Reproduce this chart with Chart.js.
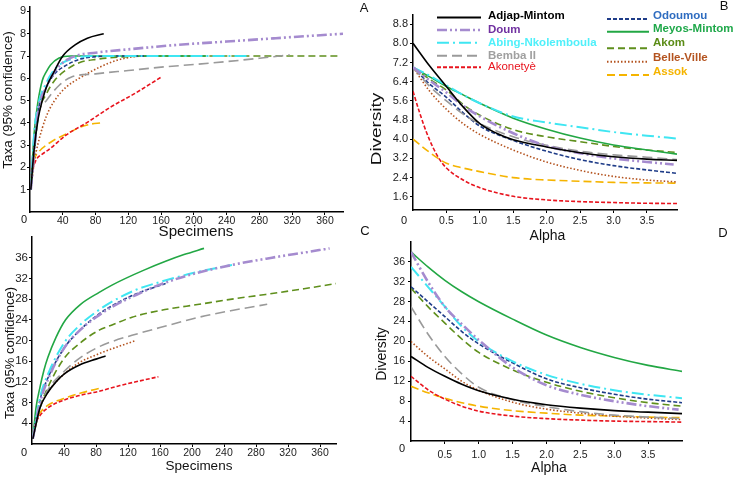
<!DOCTYPE html>
<html>
<head>
<meta charset="utf-8">
<script src="https://cdn.jsdelivr.net/npm/chart.js@4.4.1/dist/chart.umd.min.js"></script>
<style>
  body { margin: 0; background: #fff; width: 733px; height: 478px; position: relative; overflow: hidden; }
  canvas { position: absolute; }
</style>
</head>
<body>
<canvas id="chartA" width="355" height="240" style="left:0;top:0;width:355px;height:240px"></canvas>
<canvas id="chartB" width="378" height="245" style="left:355px;top:0;width:378px;height:245px"></canvas>
<canvas id="chartC" width="355" height="246" style="left:0;top:232px;width:355px;height:246px"></canvas>
<canvas id="chartD" width="378" height="246" style="left:355px;top:232px;width:378px;height:246px"></canvas>
<script>
const sites = ["Adjap-Mintom", "Doum", "Abing-Nkolemboula", "Bemba II", "Akonetyè",
  "Odoumou", "Meyos-Mintom", "Akom", "Belle-Ville", "Assok"];

// A: rarefaction, [specimens, taxa]
const rareA_adjap = [[1,1],[5,2.8],[10,4.2],[15,5.0],[20,5.6],[28,6.2],[40,7.0],[55,7.5],[70,7.8],[90,8.0]];
const rareA_doum = [[1,1],[10,4.5],[20,5.6],[30,6.3],[40,6.7],[55,7.0],[80,7.15],[120,7.3],[180,7.5],[240,7.65],[300,7.8],[340,7.9],[382,8.0]];
const rareA_abing = [[1,1],[5,3.5],[10,4.8],[20,5.8],[30,6.4],[40,6.7],[60,6.95],[80,7.0],[268,7.0]];
const rareA_bemba = [[1,1],[10,4.3],[20,5.0],[36,5.7],[50,6.05],[80,6.2],[120,6.35],[160,6.5],[200,6.62],[240,6.75],[280,6.9],[317,7.05]];
const rareA_akonetye = [[1,1.1],[3,1.8],[7,2.3],[15,2.6],[23,2.8],[44,3.45],[69,4.0],[98,4.7],[127,5.3],[160,6.05]];
const rareA_odoumou = [[1,1],[10,4.5],[20,5.6],[30,6.2],[45,6.6],[60,6.85],[80,6.97],[100,7.0],[142,7.0]];
const rareA_meyos = [[1,1],[5,3.5],[10,5.0],[15,5.9],[20,6.3],[25,6.6],[35,6.9],[50,7.0],[215,7.0]];
const rareA_akom = [[1,1],[10,4.3],[20,5.3],[30,5.9],[45,6.4],[60,6.7],[80,6.85],[120,6.97],[160,7.0],[376,7.0]];
const rareA_belle = [[1,1],[5,2.2],[10,3.1],[20,4.3],[30,5.0],[44,5.6],[60,6.0],[85,6.5],[105,6.8],[130,7.0]];
const rareA_assok = [[1,1.2],[3,2.0],[11,2.7],[20,3.0],[28,3.2],[44,3.5],[61,3.8],[75,3.95],[86,4.0]];

// B: diversity profile, [alpha, diversity]
const profB_adjap = [[0,8.0],[0.25,7.05],[0.5,6.2],[0.75,5.35],[1.0,4.65],[1.25,4.25],[1.5,3.98],[2.0,3.68],[2.5,3.44],[3.0,3.27],[3.5,3.17],[3.95,3.12]];
const profB_doum = [[0,7.0],[0.25,6.45],[0.5,5.95],[0.75,5.4],[1.0,4.95],[1.5,4.25],[2.0,3.72],[2.5,3.42],[3.0,3.2],[3.5,3.05],[3.9,2.95]];
const profB_abing = [[0,7.0],[0.25,6.65],[0.5,6.25],[0.75,5.85],[1.0,5.5],[1.5,4.95],[2.0,4.7],[2.5,4.5],[3.0,4.3],[3.5,4.15],[3.95,4.03]];
const profB_bemba = [[0,7.0],[0.25,6.2],[0.5,5.6],[0.75,5.05],[1.0,4.65],[1.5,4.1],[2.0,3.75],[2.5,3.5],[3.0,3.35],[3.5,3.25],[3.95,3.15]];
const profB_akonetye = [[0,6.0],[0.1,5.1],[0.2,4.3],[0.3,3.65],[0.4,3.15],[0.5,2.8],[0.75,2.3],[1.0,1.98],[1.5,1.62],[2.0,1.47],[2.5,1.4],[3.0,1.36],[3.5,1.33],[3.95,1.32]];
const profB_odoumou = [[0,7.0],[0.25,6.3],[0.5,5.75],[0.75,5.1],[1.0,4.55],[1.5,3.95],[2.0,3.5],[2.5,3.15],[3.0,2.9],[3.5,2.72],[3.95,2.58]];
const profB_meyos = [[0,7.0],[0.25,6.6],[0.5,6.2],[0.75,5.85],[1.0,5.5],[1.5,4.88],[2.0,4.42],[2.5,4.05],[3.0,3.76],[3.5,3.55],[3.95,3.38]];
const profB_akom = [[0,7.0],[0.25,6.5],[0.5,6.05],[0.75,5.45],[1.0,5.0],[1.5,4.4],[2.0,4.1],[2.5,3.9],[3.0,3.7],[3.5,3.55],[3.95,3.45]];
const profB_belle = [[0,7.0],[0.25,6.0],[0.5,5.25],[0.75,4.65],[1.0,4.2],[1.5,3.55],[2.0,3.05],[2.5,2.7],[3.0,2.45],[3.5,2.3],[3.95,2.22]];
const profB_assok = [[0,4.0],[0.25,3.45],[0.5,3.0],[0.75,2.8],[1.0,2.65],[1.5,2.4],[2.0,2.3],[2.5,2.25],[3.0,2.2],[3.5,2.18],[3.95,2.17]];

// C: rarefaction, [specimens, taxa]
const rareC_adjap = [[1,1],[10,7],[20,10],[30,12],[40,13.5],[60,15.3],[80,16.4],[92,17]];
const rareC_doum = [[1,1],[10,8],[20,12.5],[40,18.5],[60,22],[80,24.5],[100,26.5],[130,28.8],[160,30.8],[200,32.8],[250,34.6],[300,36],[340,37],[372,37.8]];
const rareC_abing = [[1,1],[10,9],[20,13.5],[40,19.5],[60,23],[80,25.5],[100,27.5],[130,29.8],[160,31.3],[200,33],[250,34.6]];
const rareC_bemba = [[1,1],[10,7],[20,10.5],[40,14],[57,16.3],[80,18.5],[100,19.8],[125,21],[160,22.5],[209,24.5],[250,25.8],[294,27]];
const rareC_akonetye = [[1,1],[5,4],[10,5.5],[20,7],[40,8.5],[60,9.4],[84,10.2],[110,11.3],[135,12.2],[158,13]];
const rareC_odoumou = [[1,1],[10,8.5],[20,12.8],[40,18.5],[60,22],[80,24.7],[100,26.7],[130,29],[167,31]];
const rareC_meyos = [[1,1],[5,7],[10,11],[15,14.3],[20,16.8],[30,20.6],[42,24.0],[60,26.9],[84,29.3],[100,30.7],[117,32.0],[140,33.6],[167,35.3],[190,36.6],[215,37.8]];
const rareC_akom = [[1,1],[10,7],[20,11],[40,16.5],[60,19.5],[84,22],[100,23],[125,24.5],[160,25.8],[209,27],[250,28],[292,28.9],[340,30],[380,31]];
const rareC_belle = [[1,1],[10,7],[20,10],[40,13.5],[60,15.8],[80,17.2],[100,18.4],[130,20]];
const rareC_assok = [[1,1],[5,4.5],[10,6],[20,7.5],[40,8.8],[60,9.8],[88,10.9]];

// D: diversity profile, [alpha, diversity]
const profD_adjap = [[0,17],[0.25,14.8],[0.5,13],[0.75,11.4],[1.0,10.1],[1.5,8.4],[2.0,7.3],[2.5,6.6],[3.0,6.1],[3.5,5.8],[4.0,5.5]];
const profD_doum = [[0,38],[0.25,32],[0.5,27],[0.75,23.5],[1.0,20.3],[1.5,14.8],[2.0,11.2],[2.5,9.3],[3.0,8],[3.5,7],[3.95,6.3]];
const profD_abing = [[0,35],[0.25,31],[0.5,27],[0.75,23],[1.0,20],[1.5,16],[2.0,13.3],[2.5,11.5],[3.0,10.2],[3.5,9.3],[4.0,8.6]];
const profD_bemba = [[0,27],[0.25,21.5],[0.5,17],[0.75,13.5],[1.0,10.8],[1.5,8.3],[2.0,6.9],[2.5,5.9],[3.0,5.2],[3.5,4.8],[4.0,4.5]];
const profD_akonetye = [[0,13],[0.25,10.3],[0.5,8.4],[0.75,7],[1.0,6],[1.5,5],[2.0,4.5],[2.5,4.2],[3.0,4],[3.5,3.9],[4.0,3.8]];
const profD_odoumou = [[0,31],[0.25,28],[0.5,25],[0.75,22],[1.0,19.5],[1.5,15.7],[2.0,12.5],[2.5,10.7],[3.0,9.4],[3.5,8.4],[4.0,7.7]];
const profD_meyos = [[0,38],[0.25,35],[0.5,32.3],[0.75,30],[1.0,28],[1.5,24.5],[2.0,21.3],[2.5,18.8],[3.0,16.8],[3.5,15.2],[4.0,14]];
const profD_akom = [[0,30.7],[0.25,27],[0.5,23.7],[0.75,20.5],[1.0,17.8],[1.5,14.3],[2.0,11.8],[2.5,10],[3.0,8.7],[3.5,7.7],[4.0,7]];
const profD_belle = [[0,20],[0.25,17],[0.5,14.5],[0.75,12],[1.0,10.2],[1.5,7.8],[2.0,6.4],[2.5,5.6],[3.0,5.0],[3.5,4.6],[4.0,4.3]];
const profD_assok = [[0,11],[0.25,9.7],[0.5,8.6],[0.75,7.7],[1.0,7],[1.5,6.1],[2.0,5.6],[2.5,5.2],[3.0,5.0],[3.5,4.8],[4.0,4.7]];

// tick labels
const specimenTicks = [40, 80, 120, 160, 200, 240, 280, 320, 360];
const alphaTicks = [0.5, 1.0, 1.5, 2.0, 2.5, 3.0, 3.5];
const taxaTicksA = [1, 2, 3, 4, 5, 6, 7, 8, 9];
const diversityTicksB = [1.6, 2.4, 3.2, 4.0, 4.8, 5.6, 6.4, 7.2, 8.0, 8.8];
const countTicks = [4, 8, 12, 16, 20, 24, 28, 32, 36];

// line styles, in sites order
const lineColors = ["#000000", "#a58bcf", "#3fe6f2", "#9a9a9a", "#e8141e", "#1f3c88", "#22a744", "#5f8f1c", "#b4531f", "#f5b400"];
const labelColors = ["#000000", "#7030a0", "#4ff0fa", "#a0a0a0", "#e8141e", "#2e6cc0", "#1fa84a", "#5b8c16", "#b4531f", "#f5b400"];
const lineDashes = [[], [10, 3, 2, 3, 2, 3], [12, 4, 2, 4], [10, 5], [4, 2], [4, 2], [], [7, 4], [1.5, 2], [8, 4]];
const lineWidths = [1.6, 2.6, 2, 1.6, 1.6, 1.6, 1.6, 1.6, 1.6, 1.6];

const FONT = '"Liberation Sans", Arial, sans-serif';
Chart.defaults.font.family = FONT;

function textLayer(items) {
  return {
    id: "textLayer",
    afterDraw(chart) {
      const c = chart.ctx;
      items.forEach((t) => {
        c.save();
        c.font = t.font;
        c.fillStyle = t.color || "#111";
        c.textAlign = "center";
        c.textBaseline = "middle";
        c.translate(t.x, t.y);
        if (t.rotate) c.rotate(t.rotate);
        if (t.stretch) c.scale(t.stretch, 1);
        c.fillText(t.text, 0, 0);
        c.restore();
      });
    },
  };
}

// legend drawn on panel B
const legendLayer = {
  id: "legendLayer",
  afterDraw(chart) {
    const c = chart.ctx;
    const cols = [
      { x0: 82, x1: 126, tx: 133, ty: [16, 30, 42.7, 55.7, 67.3], ly: [17.5, 30, 42.7, 55.7, 67.3] },
      { x0: 252, x1: 294, tx: 298, ty: [16, 29, 43.3, 58.3, 71.7], ly: [19, 31.7, 48.3, 61.7, 75] },
    ];
    chart.data.datasets.forEach((ds, i) => {
      const col = cols[i < 5 ? 0 : 1];
      const row = i % 5;
      c.save();
      c.strokeStyle = ds.borderColor;
      c.lineWidth = i === 1 ? 2.6 : 2;
      c.setLineDash(ds.borderDash);
      c.beginPath();
      c.moveTo(col.x0, col.ly[row]);
      c.lineTo(col.x1, col.ly[row]);
      c.stroke();
      c.setLineDash([]);
      c.font = (i === 4 ? "" : "bold ") + "11.5px " + FONT;
      c.fillStyle = labelColors[i];
      c.textAlign = "left";
      c.textBaseline = "middle";
      c.fillText(ds.label, col.tx, col.ty[row]);
      c.restore();
    });
  },
};

function axis(min, max, ticks, horizontal, fixed, fmt, fontSize, pad) {
  return {
    type: "linear",
    min: min,
    max: max,
    afterBuildTicks: (s) => { s.ticks = ticks.map((v) => ({ value: v })); },
    afterFit: (s) => {
      if (horizontal) s.height = fixed; else s.width = fixed;
      s.paddingLeft = 0; s.paddingRight = 0; s.paddingTop = 0; s.paddingBottom = 0;
    },
    grid: { display: true, drawOnChartArea: false, drawTicks: true, tickLength: 3, color: "#000", lineWidth: 1 },
    border: { display: true, color: "#000", width: 1.5 },
    ticks: {
      autoSkip: false,
      maxRotation: 0,
      padding: pad,
      color: "#222",
      font: { size: fontSize },
      callback: fmt,
    },
    title: { display: false },
  };
}

function makePanel(id, curves, o) {
  const ctx = document.getElementById(id).getContext("2d");
  return new Chart(ctx, {
    type: "line",
    data: {
      datasets: curves.map((pts, i) => ({
        label: sites[i],
        data: pts.map(([x, y]) => ({ x, y })),
        borderColor: lineColors[i],
        borderDash: lineDashes[i],
        borderWidth: lineWidths[i],
        pointRadius: 0,
        fill: false,
        cubicInterpolationMode: "monotone",
      })),
    },
    options: {
      responsive: false,
      animation: false,
      events: [],
      layout: { padding: o.padding },
      plugins: { legend: { display: false }, tooltip: { enabled: false } },
      scales: { x: o.x, y: o.y },
    },
    plugins: o.plugins,
  });
}

const plain = (v) => String(v);
const oneDec = (v) => v.toFixed(1);
const tick = (size) => size + "px " + FONT;

makePanel("chartA",
  [rareA_adjap, rareA_doum, rareA_abing, rareA_bemba, rareA_akonetye, rareA_odoumou, rareA_meyos, rareA_akom, rareA_belle, rareA_assok],
  {
    padding: { left: 0, top: 7, right: 12, bottom: 0 },
    x: axis(0, 382, specimenTicks, true, 28, plain, 10.5, 0),
    y: axis(0, 9.2, taxaTicksA, false, 30, plain, 11, 1),
    plugins: [textLayer([
      { text: "0", x: 24, y: 220, font: tick(11) },
      { text: "Specimens", x: 196, y: 232, font: tick(14), stretch: 1.08 },
      { text: "Taxa (95% confidence)", x: 8.5, y: 100, rotate: -Math.PI / 2, font: tick(13.5) },
    ])],
  });

makePanel("chartB",
  [profB_adjap, profB_doum, profB_abing, profB_bemba, profB_akonetye, profB_odoumou, profB_meyos, profB_akom, profB_belle, profB_assok],
  {
    padding: { left: 0, top: 15, right: 56, bottom: 0 },
    x: axis(0, 3.95, alphaTicks, true, 35, oneDec, 10.5, 2),
    y: axis(1.05, 9.18, diversityTicksB, false, 58, oneDec, 11, 2),
    plugins: [legendLayer, textLayer([
      { text: "0", x: 49, y: 221, font: tick(11) },
      { text: "Alpha", x: 192.5, y: 236, font: tick(14) },
      { text: "Diversity", x: 22, y: 129, rotate: -Math.PI / 2, font: tick(14), stretch: 1.35 },
      { text: "A", x: 9, y: 8, font: tick(13) },
      { text: "B", x: 369, y: 6, font: tick(13) },
      { text: "C", x: 10, y: 231, font: tick(13) },
      { text: "D", x: 368, y: 233, font: tick(13) },
    ])],
  });

makePanel("chartC",
  [rareC_adjap, rareC_doum, rareC_abing, rareC_bemba, rareC_akonetye, rareC_odoumou, rareC_meyos, rareC_akom, rareC_belle, rareC_assok],
  {
    padding: { left: 0, top: 5, right: 19, bottom: 0 },
    x: axis(0, 380, specimenTicks, true, 34, plain, 10.5, 0),
    y: axis(0, 40, countTicks, false, 32, plain, 11.5, 1),
    plugins: [textLayer([
      { text: "0", x: 24, y: 221, font: tick(11) },
      { text: "Specimens", x: 199, y: 234, font: tick(13.5) },
      { text: "Taxa (95% confidence)", x: 10, y: 121, rotate: -Math.PI / 2, font: tick(13) },
    ])],
  });

makePanel("chartD",
  [profD_adjap, profD_doum, profD_abing, profD_bemba, profD_akonetye, profD_odoumou, profD_meyos, profD_akom, profD_belle, profD_assok],
  {
    padding: { left: 0, top: 10, right: 51, bottom: 0 },
    x: axis(0, 4.0, alphaTicks, true, 37, oneDec, 10.5, 5),
    y: axis(0, 40, countTicks, false, 56, plain, 10.5, 3),
    plugins: [textLayer([
      { text: "0", x: 47, y: 217, font: tick(11) },
      { text: "Alpha", x: 194, y: 236, font: tick(14) },
      { text: "Diversity", x: 27, y: 122, rotate: -Math.PI / 2, font: tick(14) },
    ])],
  });
</script>
</body>
</html>
